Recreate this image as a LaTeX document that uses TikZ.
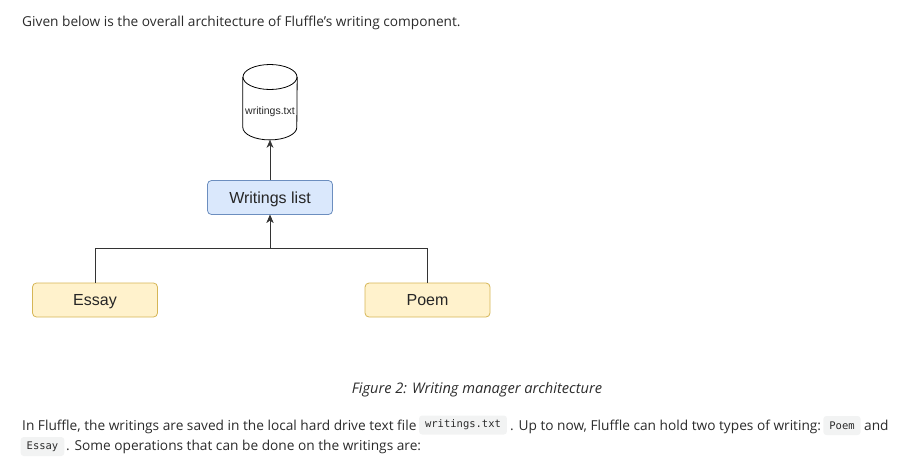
\documentclass[tikz,border=0pt]{standalone}
\usepackage{fontspec}
\setmainfont{Open Sans}
\newfontfamily\drawfont{Liberation Sans}
\newfontfamily\codefont{DejaVu Sans Mono}
\usetikzlibrary{arrows.meta}
\definecolor{txt}{HTML}{2B2B2B}
\definecolor{edgecol}{HTML}{333333}
\definecolor{bluefill}{HTML}{DAE8FC}
\definecolor{blueline}{HTML}{6C8EBF}
\definecolor{yelfill}{HTML}{FFF2CC}
\definecolor{yelline}{HTML}{D6B656}
\definecolor{codebg}{HTML}{F2F3F3}
\begin{document}
\begin{tikzpicture}
  [x=1pt,y=-1pt,every node/.style={inner sep=0pt,text=txt},
   body/.style={anchor=base west,font=\fontsize{13.7}{16}\selectfont},
   wbox/.style={draw,rounded corners=4pt,line width=.8pt,minimum width=125pt,minimum height=34pt,
     text height=11.5pt,text depth=0pt,font=\drawfont\fontsize{16}{18}\selectfont,text=black!85},
   code/.style={fill=codebg,rounded corners=3pt,inner xsep=6pt,minimum height=19pt,
     font=\codefont\fontsize{10.5}{12}\selectfont},
   edge/.style={draw=edgecol,line width=.8pt,-{Stealth[length=8pt,width=7pt]}}]
  \useasboundingbox (0,0) rectangle (913,469);
  \node (t1)[body] at (22,26) {Given below is the overall architecture of Fluffle's writing component.};

  % text file store, outline drawn by hand
  \node (db)[minimum width=54pt,minimum height=75pt,font=\drawfont\fontsize{10.5}{12}\selectfont,text=black!85]
    at (270,102.2) {\raisebox{-12.5pt}[0pt][0pt]{writings.txt}};
  \draw[line width=.8pt] ([yshift=-12.5pt]db.north) ellipse [x radius=27pt,y radius=12.5pt];
  \draw[line width=.8pt] ([yshift=-12.5pt]db.north west) -- ([yshift=12.5pt]db.south west)
    arc [start angle=180,end angle=360,x radius=27pt,y radius=12.5pt] -- ([yshift=-12.5pt]db.north east);

  \node (wl)[wbox,fill=bluefill,draw=blueline] at (270,197.5) {Writings list};
  \node (es)[wbox,fill=yelfill,draw=yelline] at (95,300) {Essay};
  \node (po)[wbox,fill=yelfill,draw=yelline] at (427.5,300) {Poem};
  \coordinate (jn) at (270,248);

  \foreach \from in {es,po}
    \draw[edge] (\from.north) |- (jn) -- (wl.south);
  \draw[edge] (wl.north) -- (db.south);

  \node (cap)[anchor=base,font=\itshape\fontsize{14.6}{17}\selectfont] at (477,393) {Figure 2: Writing manager architecture};

  \node (p1)[body] at (22,430) {In Fluffle, the writings are saved in the local hard drive text file};
  \node (c1)[code] at (463,425) {writings.txt};
  \node (p2)[body] at (510,430) {. Up to now, Fluffle can hold two types of writing:};
  \node (c2)[code] at (842,425.5) {Poem};
  \node (p3)[body] at (864,430) {and};
  \node (c3)[code] at (42.5,446.5) {Essay};
  \node (p4)[body] at (66,450) {. Some operations that can be done on the writings are:};
\end{tikzpicture}
\end{document}
